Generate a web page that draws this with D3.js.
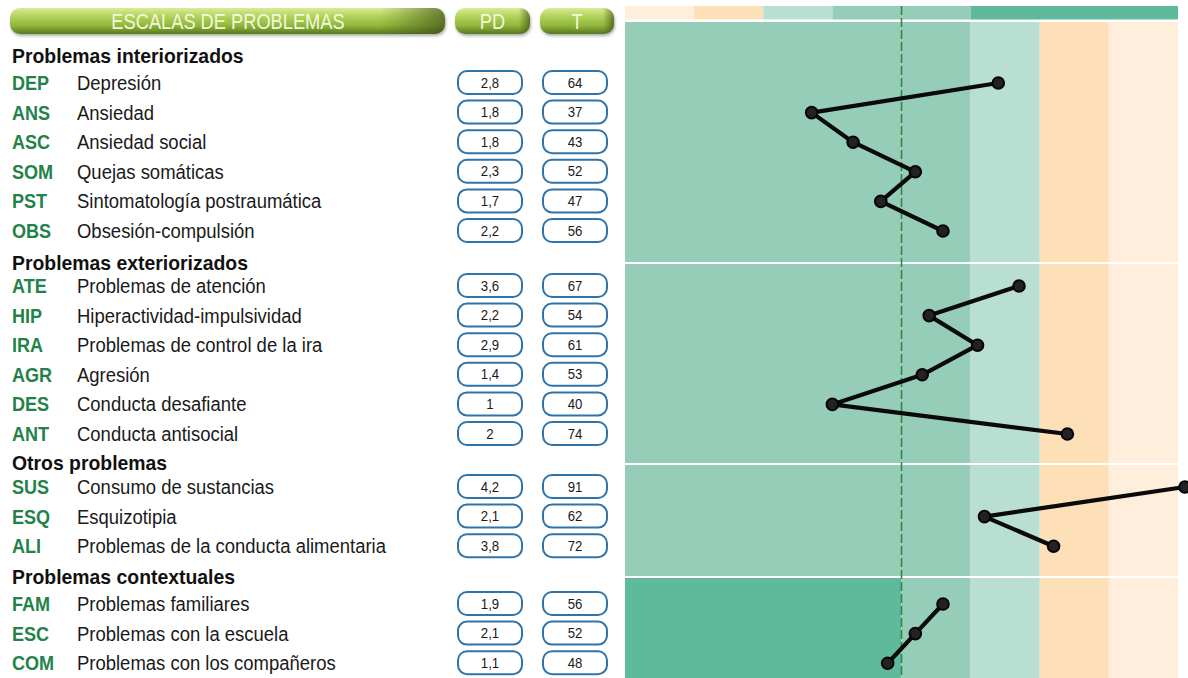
<!DOCTYPE html>
<html>
<head>
<meta charset="utf-8">
<script src="https://cdn.jsdelivr.net/npm/d3@7"></script>
<style>
  body { margin: 0; background: #fff; }
  svg { display: block; }
  text { font-family: "Liberation Sans", Arial, sans-serif; }
</style>
</head>
<body>
<svg id="chart" width="1188" height="678"></svg>
<script>
// data
var sections = ["Problemas interiorizados", "Problemas exteriorizados", "Otros problemas", "Problemas contextuales"];
var codes = ["DEP","ANS","ASC","SOM","PST","OBS", "ATE","HIP","IRA","AGR","DES","ANT", "SUS","ESQ","ALI", "FAM","ESC","COM"];
var names = ["Depresión","Ansiedad","Ansiedad social","Quejas somáticas","Sintomatología postraumática","Obsesión-compulsión",
  "Problemas de atención","Hiperactividad-impulsividad","Problemas de control de la ira","Agresión","Conducta desafiante","Conducta antisocial",
  "Consumo de sustancias","Esquizotipia","Problemas de la conducta alimentaria",
  "Problemas familiares","Problemas con la escuela","Problemas con los compañeros"];
var sectionOf = [0,0,0,0,0,0, 1,1,1,1,1,1, 2,2,2, 3,3,3];
var pd = ["2,8","1,8","1,8","2,3","1,7","2,2", "3,6","2,2","2,9","1,4","1","2", "4,2","2,1","3,8", "1,9","2,1","1,1"];
var tScores = [64,37,43,52,47,56, 67,54,61,53,40,74, 91,62,72, 56,52,48];
var headerLabels = ["ESCALAS DE PROBLEMAS", "PD", "T"];

// colour bands by T score
var bandMain = [[10,60,"#96cdb9"],[60,70,"#b9dfd2"],[70,80,"#fddfb8"],[80,90,"#feeedb"]];
var bandContext = [[10,50,"#5fb99b"],[50,60,"#96cdb9"],[60,70,"#b9dfd2"],[70,80,"#fddfb8"],[80,90,"#feeedb"]];
var bandTop = [[10,20,"#feeedb"],[20,30,"#fddfb8"],[30,40,"#b9dfd2"],[40,60,"#96cdb9"],[60,90,"#5fb99b"]];

// layout
var headerY = [56, 263, 463, 577];
var firstRowY = [82, 285, 486, 603];
var rowStep = 29.6;
var sectionTop = [22, 264, 465, 578];
var sectionBottom = [262, 463, 576, 678];
var SX = 0.88; // fake condensed face

var svg = d3.select("#chart");
var x = d3.scaleLinear().domain([10, 90]).range([625, 1178]);

var rowIndex = [];
var counts = [0,0,0,0];
sectionOf.forEach(function(s) { rowIndex.push(counts[s]++); });
function rowY(i) { return firstRowY[sectionOf[i]] + rowIndex[i] * rowStep; }
function squeeze(px, py, sx) { return "translate(" + px + "," + py + ") scale(" + sx + ",1)"; }

// gradients
var defs = svg.append("defs");
var g1 = defs.append("linearGradient").attr("id", "pill").attr("x1", 0).attr("y1", 0).attr("x2", 0).attr("y2", 1);
[["0%","#d9ec98"],["30%","#b4d55c"],["68%","#90b63c"],["100%","#587820"]].forEach(function(s) {
  g1.append("stop").attr("offset", s[0]).attr("stop-color", s[1]);
});
var g2 = defs.append("linearGradient").attr("id", "pillEnd").attr("x1", 0).attr("y1", 0).attr("x2", 1).attr("y2", 0);
[["0%","rgba(70,90,20,0)"],["85%","rgba(70,90,20,0)"],["100%","rgba(55,70,20,0.65)"]].forEach(function(s) {
  g2.append("stop").attr("offset", s[0]).attr("stop-color", s[1]);
});
var f = defs.append("filter").attr("id", "shadow").attr("x", "-10%").attr("y", "-30%").attr("width", "120%").attr("height", "180%");
f.append("feDropShadow").attr("dx", 1).attr("dy", 2).attr("stdDeviation", 1.5).attr("flood-color", "#777").attr("flood-opacity", 0.6);

// header pills
var pills = [[10, 445], [455, 530], [540, 614]];
pills.forEach(function(p, i) {
  var gp = svg.append("g");
  gp.append("rect").attr("x", p[0]).attr("y", 8).attr("width", p[1] - p[0]).attr("height", 26)
    .attr("rx", 10).attr("fill", "url(#pill)").attr("filter", "url(#shadow)");
  gp.append("rect").attr("x", p[0]).attr("y", 8).attr("width", p[1] - p[0]).attr("height", 26)
    .attr("rx", 10).attr("fill", "url(#pillEnd)");
  gp.append("text")
    .attr("transform", squeeze(i === 0 ? 228 : (p[0] + p[1]) / 2, 29, 0.83))
    .attr("text-anchor", "middle").attr("font-size", 22)
    .attr("fill", "#f1f8dc").text(headerLabels[i]);
});

// chart background
function drawBands(bands, y0, y1) {
  bands.forEach(function(b) {
    svg.append("rect").attr("x", x(b[0])).attr("y", y0)
      .attr("width", x(b[1]) - x(b[0])).attr("height", y1 - y0).attr("fill", b[2]);
  });
}
drawBands(bandTop, 6, 19.5);
sections.forEach(function(s, i) {
  drawBands(i === 3 ? bandContext : bandMain, sectionTop[i], sectionBottom[i]);
});

// T = 50 reference line
svg.append("line").attr("x1", x(50)).attr("x2", x(50)).attr("y1", 6).attr("y2", 678)
  .attr("stroke", "#2f8a3c").attr("stroke-width", 1.6).attr("stroke-dasharray", "9,3");

// section headings
sections.forEach(function(s, i) {
  svg.append("text").attr("transform", squeeze(12, headerY[i] + 7, 0.97))
    .attr("font-size", 20).attr("font-weight", "bold").attr("fill", "#111").text(s);
});

// rows
var rows = svg.append("g").selectAll("g").data(codes).enter().append("g")
  .attr("transform", function(d, i) { return "translate(0," + rowY(i) + ")"; });
rows.append("text").attr("transform", squeeze(12, 8, 0.86))
  .attr("font-size", 21).attr("font-weight", "bold").attr("fill", "#23824a").text(function(d) { return d; });
rows.append("text").attr("transform", squeeze(77, 8, SX))
  .attr("font-size", 21).attr("fill", "#1a1a1a").text(function(d, i) { return names[i]; });

[[458, 522, pd], [543, 607, tScores]].forEach(function(c) {
  rows.append("rect").attr("x", c[0]).attr("y", -11).attr("width", c[1] - c[0]).attr("height", 23)
    .attr("rx", 9).attr("fill", "#fff").attr("stroke", "#2f73a8").attr("stroke-width", 2);
  rows.append("text").attr("transform", squeeze((c[0] + c[1]) / 2, 5.5, SX))
    .attr("text-anchor", "middle").attr("font-size", 15).attr("fill", "#1a1a1a")
    .text(function(d, i) { return c[2][i]; });
});

// profile lines per section
var line = d3.line().x(function(i) { return x(tScores[i]); }).y(function(i) { return rowY(i) + 1; });
sections.forEach(function(s, si) {
  var idx = d3.range(codes.length).filter(function(i) { return sectionOf[i] === si; });
  svg.append("path").attr("d", line(idx)).attr("fill", "none")
    .attr("stroke", "#0a0a0a").attr("stroke-width", 4.2).attr("stroke-linejoin", "round");
});
svg.append("g").selectAll("circle").data(codes).enter().append("circle")
  .attr("cx", function(d, i) { return x(tScores[i]); })
  .attr("cy", function(d, i) { return rowY(i) + 1; })
  .attr("r", 5.8).attr("fill", "#222").attr("stroke", "#050505").attr("stroke-width", 2);
</script>
</body>
</html>
